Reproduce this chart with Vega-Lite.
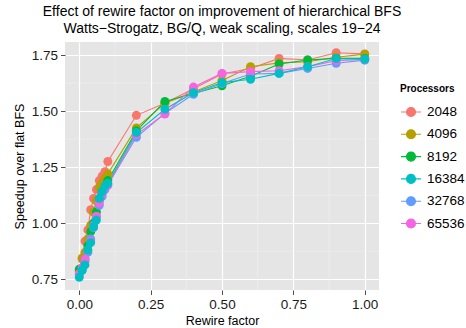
{
  "$schema": "https://vega.github.io/schema/vega-lite/v6.json",
  "autosize": "none",
  "width": 314,
  "height": 248,
  "padding": {"left": 65, "top": 42, "right": 87, "bottom": 38},
  "background": "white",
  "title": {
    "text": ["Effect of rewire factor on improvement of hierarchical BFS", "Watts\u2212Strogatz, BG/Q, weak scaling, scales 19\u221224"],
    "font": "Liberation Sans",
    "fontSize": 14,
    "fontWeight": "normal",
    "color": "black",
    "anchor": "middle",
    "frame": "group",
    "lineHeight": 16.5,
    "offset": 6
  },
  "config": {
    "view": {"fill": "#E5E5E5", "stroke": null},
    "font": "Liberation Sans",
    "axis": {
      "domain": false,
      "gridColor": "white",
      "gridWidth": 1.2,
      "tickColor": "#4d4d4d",
      "tickSize": 4.5,
      "tickWidth": 1,
      "labelFont": "Liberation Sans",
      "labelFontSize": 13.5,
      "labelColor": "#1a1a1a",
      "titleFont": "Liberation Sans",
      "titleFontSize": 12.5,
      "titleFontWeight": "normal",
      "titleColor": "black"
    }
  },
  "datasets": {
    "gx": [{"v": 0.125}, {"v": 0.375}, {"v": 0.625}, {"v": 0.875}],
    "gy": [{"v": 0.875}, {"v": 1.125}, {"v": 1.375}, {"v": 1.625}],
    "speed": [
      {"r": 0, "p": "2048", "s": 0.79}, {"r": 0.01, "p": "2048", "s": 0.84}, {"r": 0.02, "p": "2048", "s": 0.92}, {"r": 0.03, "p": "2048", "s": 0.97}, {"r": 0.04, "p": "2048", "s": 1.06}, {"r": 0.05, "p": "2048", "s": 1.11}, {"r": 0.06, "p": "2048", "s": 1.15}, {"r": 0.07, "p": "2048", "s": 1.19}, {"r": 0.08, "p": "2048", "s": 1.21}, {"r": 0.09, "p": "2048", "s": 1.23}, {"r": 0.1, "p": "2048", "s": 1.275}, {"r": 0.2, "p": "2048", "s": 1.481}, {"r": 0.3, "p": "2048", "s": 1.535}, {"r": 0.4, "p": "2048", "s": 1.6}, {"r": 0.5, "p": "2048", "s": 1.665}, {"r": 0.6, "p": "2048", "s": 1.69}, {"r": 0.7, "p": "2048", "s": 1.735}, {"r": 0.8, "p": "2048", "s": 1.728}, {"r": 0.9, "p": "2048", "s": 1.76}, {"r": 1.0, "p": "2048", "s": 1.755},
      {"r": 0, "p": "4096", "s": 0.784}, {"r": 0.01, "p": "4096", "s": 0.845}, {"r": 0.02, "p": "4096", "s": 0.87}, {"r": 0.03, "p": "4096", "s": 0.93}, {"r": 0.04, "p": "4096", "s": 0.99}, {"r": 0.05, "p": "4096", "s": 1.05}, {"r": 0.06, "p": "4096", "s": 1.1}, {"r": 0.07, "p": "4096", "s": 1.16}, {"r": 0.08, "p": "4096", "s": 1.18}, {"r": 0.09, "p": "4096", "s": 1.2}, {"r": 0.1, "p": "4096", "s": 1.22}, {"r": 0.2, "p": "4096", "s": 1.425}, {"r": 0.3, "p": "4096", "s": 1.535}, {"r": 0.4, "p": "4096", "s": 1.585}, {"r": 0.5, "p": "4096", "s": 1.636}, {"r": 0.6, "p": "4096", "s": 1.698}, {"r": 0.7, "p": "4096", "s": 1.715}, {"r": 0.8, "p": "4096", "s": 1.72}, {"r": 0.9, "p": "4096", "s": 1.74}, {"r": 1.0, "p": "4096", "s": 1.754},
      {"r": 0, "p": "8192", "s": 0.795}, {"r": 0.01, "p": "8192", "s": 0.8}, {"r": 0.02, "p": "8192", "s": 0.84}, {"r": 0.03, "p": "8192", "s": 0.9}, {"r": 0.04, "p": "8192", "s": 0.962}, {"r": 0.05, "p": "8192", "s": 1.0}, {"r": 0.06, "p": "8192", "s": 1.05}, {"r": 0.07, "p": "8192", "s": 1.1}, {"r": 0.08, "p": "8192", "s": 1.14}, {"r": 0.09, "p": "8192", "s": 1.16}, {"r": 0.1, "p": "8192", "s": 1.19}, {"r": 0.2, "p": "8192", "s": 1.412}, {"r": 0.3, "p": "8192", "s": 1.543}, {"r": 0.4, "p": "8192", "s": 1.578}, {"r": 0.5, "p": "8192", "s": 1.613}, {"r": 0.6, "p": "8192", "s": 1.655}, {"r": 0.7, "p": "8192", "s": 1.71}, {"r": 0.8, "p": "8192", "s": 1.728}, {"r": 0.9, "p": "8192", "s": 1.735}, {"r": 1.0, "p": "8192", "s": 1.735},
      {"r": 0, "p": "32768", "s": 0.77}, {"r": 0.01, "p": "32768", "s": 0.79}, {"r": 0.02, "p": "32768", "s": 0.83}, {"r": 0.03, "p": "32768", "s": 0.87}, {"r": 0.04, "p": "32768", "s": 0.93}, {"r": 0.05, "p": "32768", "s": 0.98}, {"r": 0.06, "p": "32768", "s": 1.03}, {"r": 0.07, "p": "32768", "s": 1.08}, {"r": 0.08, "p": "32768", "s": 1.12}, {"r": 0.09, "p": "32768", "s": 1.15}, {"r": 0.1, "p": "32768", "s": 1.17}, {"r": 0.2, "p": "32768", "s": 1.383}, {"r": 0.3, "p": "32768", "s": 1.49}, {"r": 0.4, "p": "32768", "s": 1.575}, {"r": 0.5, "p": "32768", "s": 1.623}, {"r": 0.6, "p": "32768", "s": 1.665}, {"r": 0.7, "p": "32768", "s": 1.668}, {"r": 0.8, "p": "32768", "s": 1.69}, {"r": 0.9, "p": "32768", "s": 1.713}, {"r": 1.0, "p": "32768", "s": 1.727},
      {"r": 0, "p": "65536", "s": 0.775}, {"r": 0.01, "p": "65536", "s": 0.8}, {"r": 0.02, "p": "65536", "s": 0.84}, {"r": 0.03, "p": "65536", "s": 0.88}, {"r": 0.04, "p": "65536", "s": 0.92}, {"r": 0.05, "p": "65536", "s": 0.99}, {"r": 0.06, "p": "65536", "s": 1.03}, {"r": 0.07, "p": "65536", "s": 1.09}, {"r": 0.08, "p": "65536", "s": 1.13}, {"r": 0.09, "p": "65536", "s": 1.16}, {"r": 0.1, "p": "65536", "s": 1.17}, {"r": 0.2, "p": "65536", "s": 1.395}, {"r": 0.3, "p": "65536", "s": 1.487}, {"r": 0.4, "p": "65536", "s": 1.607}, {"r": 0.5, "p": "65536", "s": 1.668}, {"r": 0.6, "p": "65536", "s": 1.676}, {"r": 0.7, "p": "65536", "s": 1.68}, {"r": 0.8, "p": "65536", "s": 1.698}, {"r": 0.9, "p": "65536", "s": 1.725}, {"r": 1.0, "p": "65536", "s": 1.73},
      {"r": 0, "p": "16384", "s": 0.759}, {"r": 0.01, "p": "16384", "s": 0.79}, {"r": 0.02, "p": "16384", "s": 0.814}, {"r": 0.03, "p": "16384", "s": 0.88}, {"r": 0.04, "p": "16384", "s": 0.913}, {"r": 0.05, "p": "16384", "s": 0.984}, {"r": 0.06, "p": "16384", "s": 1.014}, {"r": 0.07, "p": "16384", "s": 1.111}, {"r": 0.08, "p": "16384", "s": 1.14}, {"r": 0.09, "p": "16384", "s": 1.165}, {"r": 0.1, "p": "16384", "s": 1.178}, {"r": 0.2, "p": "16384", "s": 1.404}, {"r": 0.3, "p": "16384", "s": 1.508}, {"r": 0.4, "p": "16384", "s": 1.582}, {"r": 0.5, "p": "16384", "s": 1.627}, {"r": 0.6, "p": "16384", "s": 1.642}, {"r": 0.7, "p": "16384", "s": 1.668}, {"r": 0.8, "p": "16384", "s": 1.698}, {"r": 0.9, "p": "16384", "s": 1.734}, {"r": 1.0, "p": "16384", "s": 1.731}
    ]
  },
  "layer": [
    {
      "data": {"name": "gx"},
      "mark": {"type": "rule", "color": "#F2F2F2", "strokeWidth": 0.6},
      "encoding": {"x": {"field": "v", "type": "quantitative", "scale": {"domain": [-0.05, 1.05], "nice": false, "zero": false}}}
    },
    {
      "data": {"name": "gy"},
      "mark": {"type": "rule", "color": "#F2F2F2", "strokeWidth": 0.6},
      "encoding": {"y": {"field": "v", "type": "quantitative", "scale": {"domain": [0.702, 1.808], "nice": false, "zero": false}}}
    },
    {
      "data": {"name": "speed"},
      "mark": {"type": "line", "strokeWidth": 1.1},
      "encoding": {
        "x": {"field": "r", "type": "quantitative"},
        "y": {"field": "s", "type": "quantitative"},
        "color": {"field": "p", "type": "nominal"},
        "detail": {"field": "p"}
      }
    },
    {
      "data": {"name": "speed"},
      "mark": {"type": "point", "filled": true, "size": 80, "opacity": 1},
      "encoding": {
        "x": {
          "field": "r", "type": "quantitative", "title": "Rewire factor",
          "axis": {"values": [0, 0.25, 0.5, 0.75, 1], "format": ".2f", "labelPadding": 3, "titlePadding": 3, "grid": true}
        },
        "y": {
          "field": "s", "type": "quantitative", "title": "Speedup over flat BFS",
          "axis": {"values": [0.75, 1, 1.25, 1.5, 1.75], "format": ".2f", "labelPadding": 3, "titlePadding": 5, "grid": true}
        },
        "color": {
          "field": "p", "type": "nominal", "title": "Processors",
          "scale": {"domain": ["2048", "4096", "8192", "16384", "32768", "65536"], "range": ["#F8766D", "#B79F00", "#00BA38", "#00BFC4", "#619CFF", "#F564E3"]},
          "legend": {
            "orient": "none", "legendX": 335, "legendY": 42,
            "titleFontSize": 10, "titleFontWeight": "bold", "titleColor": "black", "titlePadding": 7,
            "labelFontSize": 13.5, "labelColor": "black", "labelOffset": 5,
            "symbolType": "M-1,0L1,0M-0.45,0A0.45,0.45,0,1,1,0.45,0A0.45,0.45,0,1,1,-0.45,0Z",
            "symbolSize": 400, "symbolStrokeWidth": 1.1, "symbolOpacity": 1, "rowPadding": 4.3
          }
        }
      }
    }
  ]
}
